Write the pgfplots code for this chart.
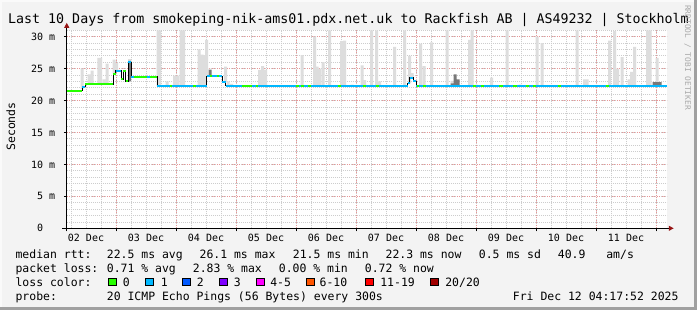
\documentclass[border=0pt]{standalone}
\usepackage{pgfplots}
\pgfplotsset{compat=1.18}
\usepackage{pgfplotstable}
\usepackage{fontspec}
\usetikzlibrary{arrows.meta}
\newfontfamily\dvmono{DejaVu Sans Mono}
\definecolor{bgc}{RGB}{243,243,243}
\definecolor{shadea}{RGB}{250,250,250}
\definecolor{shadeb}{RGB}{160,160,160}
\definecolor{mgrid}{RGB}{232,150,150}
\definecolor{ngrid}{RGB}{205,205,205}
\definecolor{smokel}{RGB}{221,221,221}
\definecolor{smoked}{RGB}{120,120,120}
\definecolor{l0}{HTML}{26FF00}
\definecolor{l1}{HTML}{00B8FF}
\definecolor{l2}{HTML}{0059FF}
\definecolor{l3}{HTML}{7E00FF}
\definecolor{l4}{HTML}{FF00FF}
\definecolor{l6}{HTML}{FF5500}
\definecolor{l11}{HTML}{FF0000}
\definecolor{l20}{HTML}{A10000}
\definecolor{arrowc}{RGB}{150,20,20}
\newcommand\tfont{\dvmono\fontsize{10bp}{12bp}\selectfont}
\newcommand\lfont{\dvmono\fontsize{11.46bp}{14bp}\selectfont}

% smoke: hour since 02 Dec 00:00, median base, dark part, light part (ms)
\pgfplotstableread{
h     base  dark light
10.4  21.8  0    3.2
13.2  22.55 0    1.55
14.4  22.55 0    2.15
17.1  22.55 0    4.15
17.8  22.55 0    4.15
19.2  22.55 0    0.75
20.4  22.55 0    3.25
23.2  24.2  0    2.2
24.2  24.7  0    1.2
29.4  23.0  3.2  0.3
40.8  22.3  0    8.7
41.4  22.3  0    8.7
44.4  22.3  0    0.7
47.4  22.3  0    1.6
48.6  22.3  0    1.6
50.0  22.3  0    8.7
51.0  22.3  0    8.7
57.2  22.3  0    5.7
58.4  22.3  0    4.9
59.6  22.3  0    4.8
60.2  23.8  0    5.7
61.6  23.8  1.0  0.2
67.8  22.9  0    2.4
68.8  22.3  0    0.7
70.2  22.3  0    0.3
81.4  22.3  0    2.5
82.6  22.3  0    3.1
83.8  22.3  0    2.5
98.4  22.3  0    4.8
103.4 22.3  0    7.7
104.4 22.3  0    3.0
105.4 22.3  0    2.7
106.8 22.3  0    3.7
109.4 22.3  0    8.7
114.2 22.3  0    7.0
115.4 22.3  0    7.1
118.4 22.3  0    0.2
122.4 22.3  0    3.2
123.4 22.3  0    0.9
126.2 22.3  0    8.7
128.2 22.3  0    8.7
129.4 22.3  0    0.7
135.4 22.3  0    6.1
139.4 22.3  0    8.7
141.4 22.7  0    4.3
142.4 23.6  0    0.7
145.8 22.3  0    6.6
147.2 22.3  0    3.1
150.2 22.3  0    6.8
156.4 22.3  0    8.7
158.4 22.3  0.4  0.4
159.6 22.3  1.8  0
160.8 22.3  1.0  0
165.4 22.3  0    7.2
166.4 22.3  0    8.7
168.0 22.3  0    0.2
174.2 22.3  0    1.3
180.4 22.3  0    8.7
185.6 22.3  0    0.2
192.4 22.3  0    7.7
194.4 22.3  0    6.7
208.4 22.3  0    8.7
211.4 22.3  0    1.0
212.4 22.3  0    1.0
221.4 22.3  0    7.1
223.4 22.3  0    8.6
224.6 22.3  0    2.7
226.4 22.3  0    4.5
229.2 22.3  0    1.0
230.2 22.3  0    2.2
231.4 22.3  0    6.1
236.6 22.3  0    8.7
237.6 22.3  0    8.7
239.2 22.3  0.6  0
240.4 22.3  0.6  3.8
241.6 22.3  0.6  0
}\smoke

\begin{document}
\begin{tikzpicture}
\useasboundingbox (0,0) rectangle (697bp,310bp);
\fill[bgc] (0,0) rectangle (697bp,310bp);
\fill[shadea] (0,308bp) rectangle (697bp,310bp);
\fill[shadea] (0,0) rectangle (2bp,310bp);
\fill[shadeb] (694bp,0) rectangle (697bp,310bp);
\fill[shadeb] (0,0) rectangle (697bp,3bp);

\begin{axis}[name=ax, at={(66.75bp,81.7bp)}, anchor=south west, scale only axis,
  width=600bp, height=198bp, xmin=4.3, xmax=244.3, ymin=0, ymax=31,
  enlargelimits=false,
  ybar stacked, bar width=1.2,
  axis lines=left, axis line style={draw=none},
  axis background/.style={fill=white},
  xtick={24,48,...,240}, xticklabels={}, minor xtick={6,12,...,240},
  ytick={0,5,...,30}, minor ytick={1,2,...,31},
  yticklabels={0\phantom{ m},5 m,10 m,15 m,20 m,25 m,30 m},
  extra x ticks={12,36,...,228},
  extra x tick labels={02 Dec,03 Dec,04 Dec,05 Dec,06 Dec,07 Dec,08 Dec,09 Dec,10 Dec,11 Dec},
  extra x tick style={grid=none, major tick length=0pt},
  grid=both,
  major grid style={mgrid, dash pattern=on 1bp off 1.5bp, line width=0.8bp},
  minor grid style={ngrid, dash pattern=on 1bp off 1bp, line width=0.8bp},
  tick align=outside, major tick length=3bp, minor tick length=0pt,
  tick style={black, line width=0.8bp},
  xticklabel style={font=\tfont, anchor=north, inner sep=0pt, yshift=-6bp},
  yticklabel style={font=\tfont, anchor=east, inner sep=0pt, xshift=-8.4bp},
]
\addplot[fill=none, draw=none] table[x=h, y=base]{\smoke};
\addplot[fill=smoked, draw=none] table[x=h, y=dark]{\smoke};
\addplot[fill=smokel, draw=none] table[x=h, y=light]{\smoke};
\end{axis}

\begin{axis}[at={(66.75bp,81.7bp)}, anchor=south west, scale only axis,
  width=600bp, height=198bp, xmin=4.3, xmax=244.3, ymin=0, ymax=31,
  enlargelimits=false, hide axis, unbounded coords=jump]
\addplot[const plot, black, line width=1bp] coordinates {
(4.3,21.5) (10.4,22.2) (11.6,22.55) (22.8,24.2) (23.9,24.7) (26.0,23.3) (26.9,24.7)
(27.9,23.0) (28.9,26.0) (30.0,23.7) (40.5,22.3) (60.3,23.8) (66.5,22.9) (67.9,22.3)
(140.6,22.7) (141.4,23.6) (142.9,23.0) (144.0,22.3) (244.3,22.3)};
\addplot[l1, line width=2bp] coordinates {
(10.4,22.2) (11.6,22.2) (11.6,nan)
(23.9,24.7) (26.0,24.7) (26.0,nan)
(28.9,26.0) (30.0,26.0) (30.0,nan)
(30.0,23.7) (40.5,23.7) (40.5,nan)
(40.5,22.3) (60.3,22.3) (60.3,nan)
(60.3,23.8) (66.5,23.8) (66.5,nan)
(66.5,22.9) (67.9,22.9) (67.9,nan)
(67.9,22.3) (140.6,22.3) (140.6,nan)
(140.6,22.7) (141.4,22.7) (141.4,nan)
(141.4,23.6) (142.9,23.6) (142.9,nan)
(142.9,23.0) (144.0,23.0) (144.0,nan)
(144.0,22.3) (244.3,22.3)};
\addplot[l0, line width=2bp] coordinates {
(4.3,21.5) (10.4,21.5) (10.4,nan)
(11.6,22.55) (22.8,22.55) (22.8,nan)
(22.8,24.2) (23.9,24.2) (23.9,nan)
(26.0,23.3) (26.9,23.3) (26.9,nan)
(26.9,24.7) (27.9,24.7) (27.9,nan)
(27.9,23.0) (28.9,23.0) (28.9,nan)
(31.2,23.7) (36.5,23.7) (36.5,nan)
(37.6,23.7) (40.5,23.7) (40.5,nan)
(45.6,22.3) (46.4,22.3) (46.4,nan)
(54.8,22.3) (56.0,22.3) (56.0,nan)
(61.6,23.8) (62.4,23.8) (62.4,nan)
(64.4,23.8) (65.2,23.8) (65.2,nan)
(74.2,22.3) (78.2,22.3) (78.2,nan)
(79.8,22.3) (80.8,22.3) (80.8,nan)
(95.8,22.3) (97.0,22.3) (97.0,nan)
(97.8,22.3) (99.0,22.3) (99.0,nan)
(100.6,22.3) (101.8,22.3) (101.8,nan)
(112.6,22.3) (113.8,22.3) (113.8,nan)
(122.6,22.3) (123.8,22.3) (123.8,nan)
(127.8,22.3) (129.0,22.3) (129.0,nan)
(144.2,22.3) (145.0,22.3) (145.0,nan)
(146.6,22.3) (147.8,22.3) (147.8,nan)
(166.6,22.3) (167.8,22.3) (167.8,nan)
(169.8,22.3) (171.0,22.3) (171.0,nan)
(177.2,22.3) (178.8,22.3) (178.8,nan)
(182.8,22.3) (184.4,22.3) (184.4,nan)
(187.8,22.3) (189.0,22.3) (189.0,nan)
(190.6,22.3) (191.8,22.3) (191.8,nan)
(200.6,22.3) (201.8,22.3) (201.8,nan)
(219.8,22.3) (221.0,22.3)};
\end{axis}

% axis lines with arrows
\draw[black, line width=1bp, -{Triangle[length=5bp,width=5bp,color=arrowc]}]
  ([xshift=-4.5bp]ax.south west) -- ([xshift=7bp]ax.south east);
\draw[black, line width=1bp, -{Triangle[length=5bp,width=5bp,color=arrowc]}]
  ([yshift=-3bp]ax.south west) -- ([yshift=7.5bp]ax.north west);

% title and side texts
\node[anchor=base, inner sep=0pt] at (348.5bp,286.5bp)
  {\dvmono\fontsize{13.3bp}{16bp}\selectfont Last 10 Days from smokeping-nik-ams01.pdx.net.uk to Rackfish AB | AS49232 | Stockholm};
\node[rotate=90, anchor=base, inner sep=0pt] at (15bp,183.5bp) {\lfont Seconds};
\node[rotate=-90, anchor=base west, inner sep=0pt, text={rgb,255:red,170;green,170;blue,170}] at (685bp,305bp)
  {\dvmono\fontsize{7.9bp}{9bp}\selectfont RRDTOOL / TOBI OETIKER};

% legend
\node[anchor=base west, inner sep=0pt] at (15.4bp,51.5bp) {\lfont median rtt:};
\node[anchor=base west, inner sep=0pt] at (106.7bp,51.5bp) {\lfont 22.5 ms avg};
\node[anchor=base west, inner sep=0pt] at (199.4bp,51.5bp) {\lfont 26.1 ms max};
\node[anchor=base west, inner sep=0pt] at (292.7bp,51.5bp) {\lfont 21.5 ms min};
\node[anchor=base west, inner sep=0pt] at (385.4bp,51.5bp) {\lfont 22.3 ms now};
\node[anchor=base west, inner sep=0pt] at (478.7bp,51.5bp) {\lfont 0.5 ms sd};
\node[anchor=base west, inner sep=0pt] at (557.7bp,51.5bp) {\lfont 40.9};
\node[anchor=base west, inner sep=0pt] at (606.1bp,51.5bp) {\lfont am/s};

\node[anchor=base west, inner sep=0pt] at (15.4bp,37.5bp) {\lfont packet loss:};
\node[anchor=base west, inner sep=0pt] at (106.7bp,37.5bp) {\lfont 0.71 \% avg};
\node[anchor=base west, inner sep=0pt] at (192.7bp,37.5bp) {\lfont 2.83 \% max};
\node[anchor=base west, inner sep=0pt] at (278.7bp,37.5bp) {\lfont 0.00 \% min};
\node[anchor=base west, inner sep=0pt] at (364.7bp,37.5bp) {\lfont 0.72 \% now};

\node[anchor=base west, inner sep=0pt] at (15.4bp,23.5bp) {\lfont loss color:};
\foreach \xa/\col/\xl/\lab in {108.3/l0/122.7/0, 145.7/l1/160.7/1, 182.7/l2/196.7/2,
  219.3/l3/233.7/3, 256.7/l4/270.1/4-5, 306.7/l6/319.4/6-10, 365.7/l11/380.1/11-19, 430.7/l20/445.1/20\slash 20} {
  \filldraw[fill=\col, draw=black, line width=0.8bp] (\xa bp,24.2bp) rectangle ++(7.6bp,7.6bp);
  \node[anchor=base west, inner sep=0pt] at (\xl bp,23.5bp) {\lfont \lab};
}

\node[anchor=base west, inner sep=0pt] at (15.4bp,9.5bp) {\lfont probe:};
\node[anchor=base west, inner sep=0pt] at (106.7bp,9.5bp) {\lfont 20 ICMP Echo Pings (56 Bytes) every 300s};
\node[anchor=base west, inner sep=0pt] at (512.7bp,9.5bp) {\lfont Fri Dec 12 04:17:52 2025};
\end{tikzpicture}
\end{document}
